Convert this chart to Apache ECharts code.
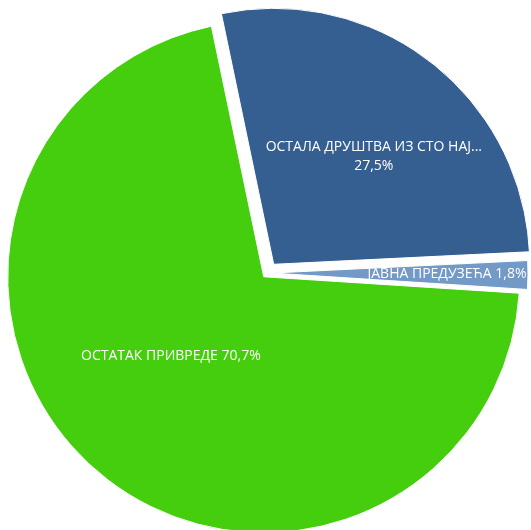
<!DOCTYPE html>
<html>
<head>
<meta charset="utf-8">
<script src="https://cdn.jsdelivr.net/npm/echarts@6/dist/echarts.min.js"></script>
<style>html,body{margin:0;padding:0;background:#fff;}#c{width:531px;height:530px;}</style>
</head>
<body>
<div id="c"></div>
<script>
const categories = ['ОСТАЛА ДРУШТВА ИЗ СТО НАЈ...', 'ЈАВНА ПРЕДУЗЕЋА', 'ОСТАТАК ПРИВРЕДЕ'];
const values = [27.5, 1.8, 70.7];
const colors = ['#365F91', '#7399C6', '#44CE0E'];
const explode = [11, 5, 5];
const labelShift = [[20, -4], [44, 0], [-7, -20]];
const labelFormats = ['multi', 'single', 'single'];

const startAngle = 101.8;
const cx = 267, cy = 273, R = 256;
const total = values.reduce((a, b) => a + b, 0);

function fmt(v) { return v.toFixed(1).replace('.', ',') + '%'; }

const series = [];
let cum = 0;
values.forEach((v, i) => {
  const mid = (startAngle - (cum + v / 2) / total * 360) * Math.PI / 180;
  cum += v;
  const ox = explode[i] * Math.cos(mid);
  const oy = -explode[i] * Math.sin(mid);
  series.push({
    type: 'pie',
    center: [cx + ox, cy + oy],
    radius: R,
    startAngle: startAngle,
    clockwise: true,
    silent: true,
    animation: false,
    avoidLabelOverlap: false,
    labelLine: { show: false },
    emphasis: { disabled: true },
    labelLayout: { dx: labelShift[i][0], dy: labelShift[i][1] },
    data: values.map((val, j) => ({
      name: categories[j],
      value: val,
      itemStyle: j === i
        ? { color: colors[j], borderColor: '#fff', borderWidth: 1 }
        : { color: 'rgba(0,0,0,0)', borderWidth: 0 },
      label: {
        show: j === i,
        position: 'inside',
        color: '#fff',
        fontFamily: 'Open Sans',
        fontSize: 14,
        lineHeight: 19,
        align: 'center',
        formatter: (p) => labelFormats[j] === 'multi'
          ? p.name + '\n' + fmt(p.value)
          : p.name + ' ' + fmt(p.value)
      }
    }))
  });
});

const chart = echarts.init(document.getElementById('c'), null, { renderer: 'canvas' });
chart.setOption({ backgroundColor: '#fff', animation: false, series: series });
</script>
</body>
</html>
